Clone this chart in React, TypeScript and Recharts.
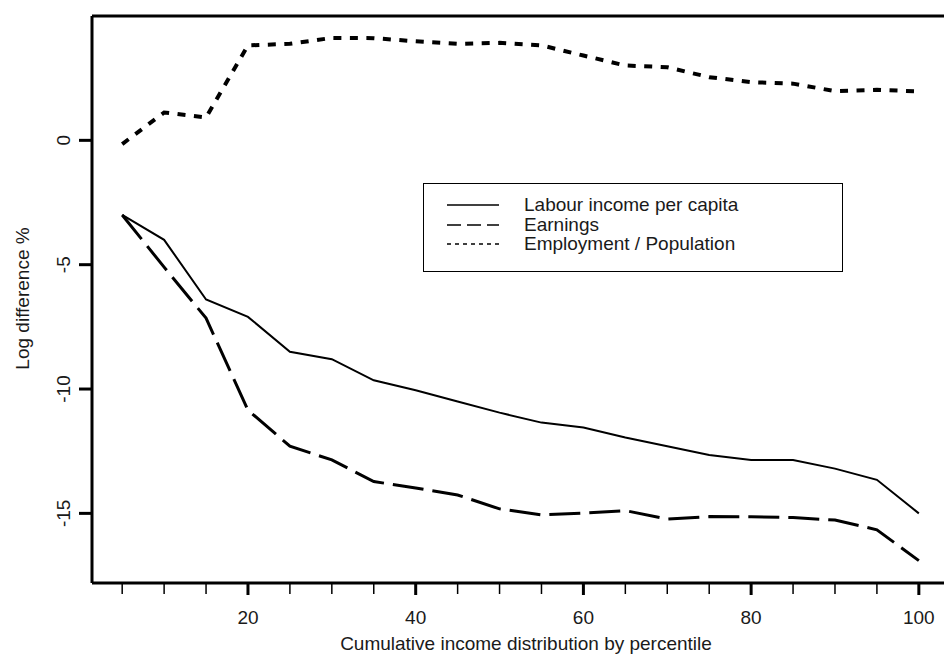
import React from 'react';
import { LineChart, Line, XAxis, YAxis, ReferenceLine, Legend } from 'recharts';

const percentiles = [5, 10, 15, 20, 25, 30, 35, 40, 45, 50, 55, 60, 65, 70, 75, 80, 85, 90, 95, 100];
const labour = [-3.0, -4.0, -6.4, -7.1, -8.5, -8.8, -9.65, -10.05, -10.5, -10.95, -11.35, -11.55, -11.95, -12.3, -12.65, -12.85, -12.85, -13.2, -13.65, -15.0];
const earnings = [-3.0, -5.1, -7.15, -10.85, -12.3, -12.85, -13.72, -13.98, -14.26, -14.82, -15.06, -14.99, -14.89, -15.23, -15.13, -15.14, -15.17, -15.27, -15.66, -16.9];
const employment = [-0.15, 1.12, 0.92, 3.82, 3.88, 4.12, 4.11, 3.98, 3.88, 3.92, 3.82, 3.41, 3.01, 2.94, 2.54, 2.34, 2.28, 1.98, 2.03, 1.97];

const xTicks = [5, 10, 15, 20, 25, 30, 35, 40, 45, 50, 55, 60, 65, 70, 75, 80, 85, 90, 95, 100];
const yTicks = [-15, -10, -5, 0];

const seriesNames = ['Labour income per capita', 'Earnings', 'Employment / Population'];

const data = percentiles.map((p, i) => ({
  p,
  labour: labour[i],
  earnings: earnings[i],
  employment: employment[i],
}));

const FONT = '"Liberation Sans", Arial, sans-serif';
const TEXT = '#1a1a1a';

const XTick = (props: any) => {
  const { x, y, payload } = props;
  const major = payload.value % 20 === 0;
  return (
    <g>
      <line x1={x} x2={x} y1={y} y2={y + (major ? 12 : 11)} stroke="#000" strokeWidth={major ? 3 : 1.5} />
      {major && (
        <text x={x} y={y + 41} textAnchor="middle" fontSize={19} fontFamily={FONT} fill={TEXT}>
          {payload.value}
        </text>
      )}
    </g>
  );
};

const YTick = (props: any) => {
  const { x, y, payload } = props;
  return (
    <g>
      <line x1={x - 13} x2={x} y1={y} y2={y} stroke="#000" strokeWidth={3} />
      <text
        transform={`translate(${x - 22},${y}) rotate(-90)`}
        textAnchor="middle"
        fontSize={19}
        fontFamily={FONT}
        fill={TEXT}
      >
        {payload.value}
      </text>
    </g>
  );
};

const YLabel = (props: any) => {
  const vb = props.viewBox || { x: 0, y: 16, width: 92, height: 567 };
  const cx = vb.x + 29;
  const cy = vb.y + vb.height / 2 - 1;
  return (
    <text
      transform={`translate(${cx},${cy}) rotate(-90)`}
      textAnchor="middle"
      fontSize={19}
      fontFamily={FONT}
      fill={TEXT}
    >
      Log difference %
    </text>
  );
};

const XLabel = (props: any) => {
  const vb = props.viewBox || { x: 92, y: 583, width: 852, height: 83 };
  return (
    <text
      x={vb.x + vb.width / 2 + 8}
      y={vb.y + 67}
      textAnchor="middle"
      fontSize={19}
      fontFamily={FONT}
      fill={TEXT}
    >
      Cumulative income distribution by percentile
    </text>
  );
};

const legendDashes = ['', '14 6', '4 4'];

const LegendBox = () => (
  <div
    style={{
      width: 420,
      height: 89,
      boxSizing: 'border-box',
      border: '1px solid #000',
      background: '#fff',
      position: 'relative',
      fontFamily: FONT,
      fontSize: 19,
      color: TEXT,
    }}
  >
    {seriesNames.map((name, i) => (
      <div
        key={name}
        style={{
          position: 'absolute',
          left: 0,
          top: [21, 41, 60][i] - 11,
          height: 22,
          display: 'flex',
          alignItems: 'center',
          whiteSpace: 'nowrap',
        }}
      >
        <svg width={100} height={22} style={{ display: 'block' }}>
          <line
            x1={23}
            x2={75}
            y1={11}
            y2={11}
            stroke="#000"
            strokeWidth={1.3}
            strokeDasharray={legendDashes[i] || undefined}
          />
        </svg>
        <span style={{ lineHeight: '22px' }}>{name}</span>
      </div>
    ))}
  </div>
);

export default function App() {
  return (
    <div style={{ position: 'absolute', left: 0, top: 0, width: 944, height: 666, background: '#fff' }}>
      <LineChart width={944} height={666} data={data} margin={{ top: 16, right: 0, bottom: 0, left: 0 }}>
        <XAxis
          dataKey="p"
          type="number"
          domain={[1.4, 103]}
          ticks={xTicks}
          interval={0}
          allowDataOverflow
          height={83}
          tickSize={0}
          tickMargin={0}
          tickLine={false}
          tick={<XTick />}
          axisLine={{ stroke: '#000', strokeWidth: 3 }}
          label={<XLabel />}
        />
        <YAxis
          type="number"
          domain={[-17.8, 5]}
          ticks={yTicks}
          interval={0}
          allowDataOverflow
          width={92}
          tickSize={0}
          tickMargin={0}
          tickLine={false}
          tick={<YTick />}
          axisLine={{ stroke: '#000', strokeWidth: 3 }}
          label={<YLabel />}
        />
        <ReferenceLine y={5} stroke="#000" strokeWidth={3} ifOverflow="visible" />
        <Line
          type="linear"
          dataKey="labour"
          name={seriesNames[0]}
          stroke="#000"
          strokeWidth={2}
          dot={false}
          isAnimationActive={false}
        />
        <Line
          type="linear"
          dataKey="earnings"
          name={seriesNames[1]}
          stroke="#000"
          strokeWidth={3}
          strokeDasharray="31 9"
          dot={false}
          isAnimationActive={false}
        />
        <Line
          type="linear"
          dataKey="employment"
          name={seriesNames[2]}
          stroke="#000"
          strokeWidth={4}
          strokeDasharray="8 8.5"
          dot={false}
          isAnimationActive={false}
        />
        <Legend
          layout="horizontal"
          verticalAlign="middle"
          align="center"
          content={<LegendBox />}
          wrapperStyle={{ left: 423, top: 183, width: 420, height: 89 }}
        />
      </LineChart>
    </div>
  );
}
